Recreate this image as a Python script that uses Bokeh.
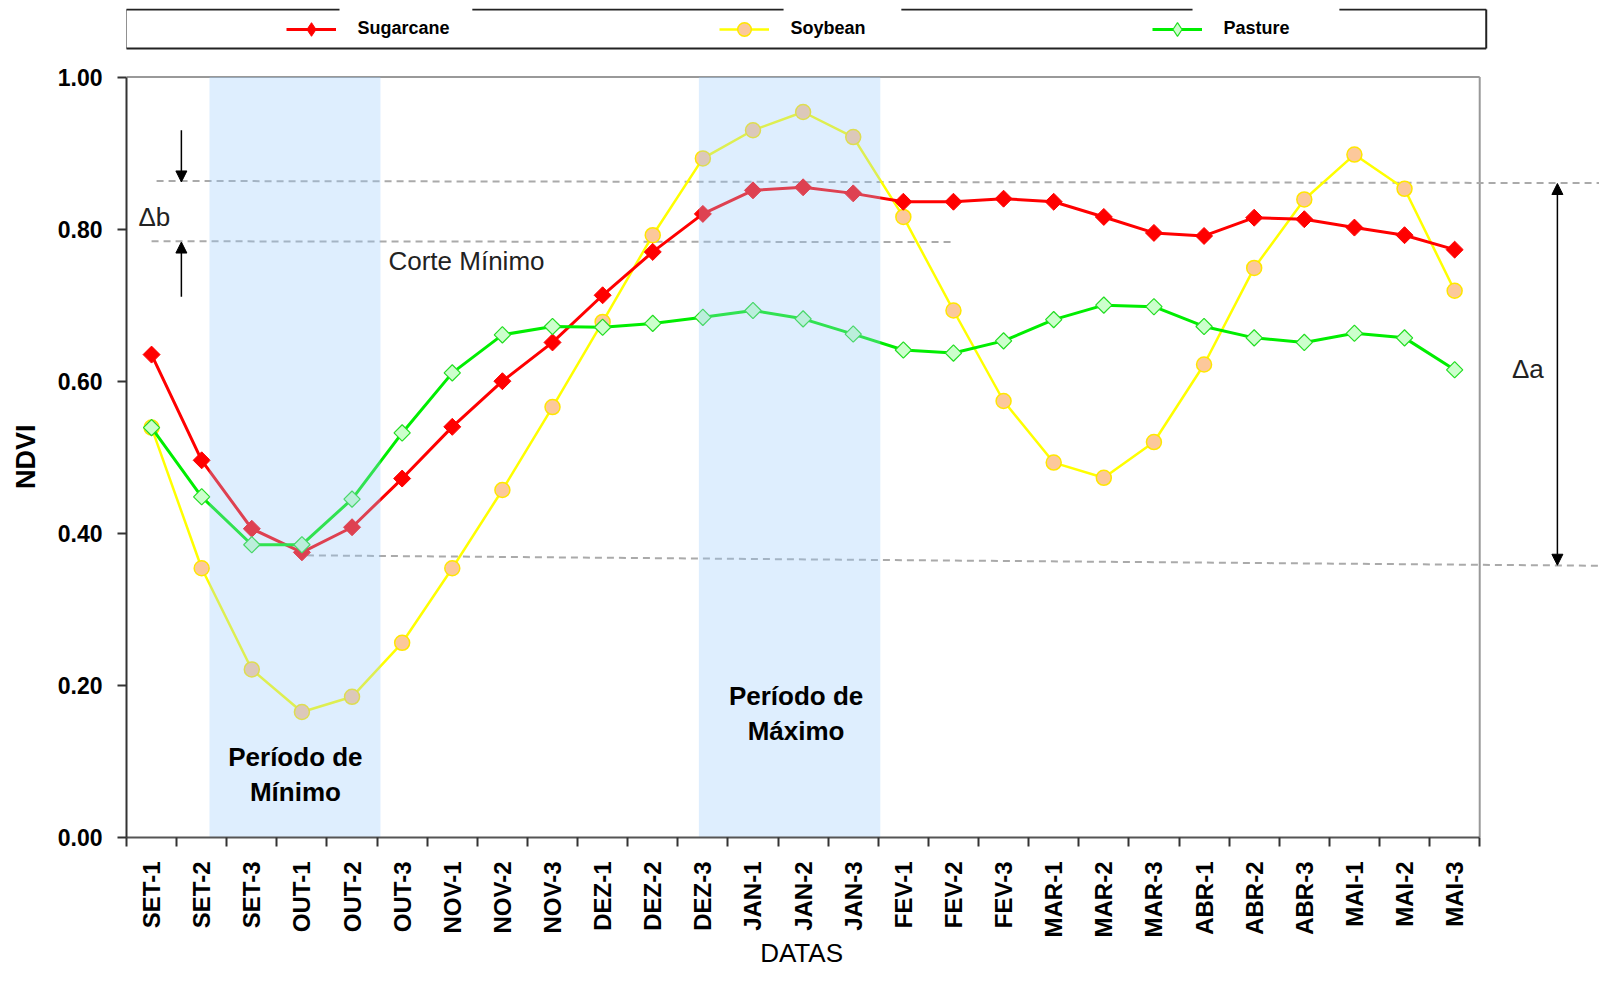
import numpy as np
from bokeh.plotting import figure
from bokeh.models import (Range1d, LinearAxis, FixedTicker, NumeralTickFormatter,
                          Legend, LegendItem, Arrow, NormalHead)
from bokeh.core.properties import value
from bokeh.embed import file_html
from bokeh.resources import INLINE

# ---------------- data ----------------
categories = ["SET-1", "SET-2", "SET-3", "OUT-1", "OUT-2", "OUT-3",
              "NOV-1", "NOV-2", "NOV-3", "DEZ-1", "DEZ-2", "DEZ-3",
              "JAN-1", "JAN-2", "JAN-3", "FEV-1", "FEV-2", "FEV-3",
              "MAR-1", "MAR-2", "MAR-3", "ABR-1", "ABR-2", "ABR-3",
              "MAI-1", "MAI-2", "MAI-3"]
sugarcane = [0.635, 0.496, 0.406, 0.375, 0.408, 0.472, 0.540, 0.600, 0.651,
             0.713, 0.770, 0.820, 0.851, 0.855, 0.847, 0.836, 0.836, 0.840,
             0.836, 0.816, 0.795, 0.791, 0.815, 0.813, 0.802, 0.792, 0.773]
soybean = [0.539, 0.354, 0.221, 0.165, 0.185, 0.256, 0.354, 0.457, 0.566,
           0.678, 0.792, 0.893, 0.930, 0.954, 0.921, 0.816, 0.693, 0.574,
           0.493, 0.473, 0.520, 0.622, 0.749, 0.839, 0.898, 0.853, 0.719]
pasture = [0.539, 0.448, 0.385, 0.385, 0.445, 0.532, 0.611, 0.661, 0.672,
           0.671, 0.676, 0.684, 0.693, 0.682, 0.662, 0.641, 0.637, 0.653,
           0.681, 0.700, 0.698, 0.672, 0.657, 0.651, 0.663, 0.657, 0.615]
y_ticks = [0.0, 0.2, 0.4, 0.6, 0.8, 1.0]

# shaded periods (in category units)
band_left = [1.156, 10.92]
band_right = [4.567, 14.54]
# reference levels
upper_level = [0.8633, 0.8605]
corte_level = [0.784, 0.783]
lower_level = [0.371, 0.357]

x = list(range(len(categories)))
FONT = "Liberation Sans"
NBSP = "\u00a0"

p = figure(width=1599, height=981, output_backend="svg", toolbar_location=None,
           x_range=Range1d(-0.5, 28.89), y_range=Range1d(0, 1.0901),
           x_axis_type=None, y_axis_type=None,
           min_border_left=126, min_border_right=0, min_border_top=8,
           min_border_bottom=144)
p.outline_line_color = None
p.background_fill_color = "white"

# ---------------- axes ----------------
xaxis = LinearAxis(
    ticker=FixedTicker(ticks=x, minor_ticks=[i - 0.5 for i in range(len(categories) + 1)]),
    bounds=(-0.5, len(categories) - 0.5),
    major_label_overrides={i: c for i, c in enumerate(categories)},
    major_label_orientation=np.pi / 2,
    major_tick_out=0, major_tick_in=0,
    minor_tick_out=9, minor_tick_in=0,
    minor_tick_line_color="#333333", minor_tick_line_width=2,
    major_label_standoff=15,
    major_label_text_font=FONT, major_label_text_font_style="bold",
    major_label_text_font_size="24px", major_label_text_color="black",
    axis_line_color="#555555", axis_line_width=2,
    # trailing no-break spaces centre the title under the axis (not the wider frame)
    axis_label="DATAS" + NBSP * 17, axis_label_standoff=-2,
    axis_label_text_font=FONT, axis_label_text_font_style="normal",
    axis_label_text_font_size="26px", axis_label_text_color="black",
)
p.add_layout(xaxis, "below")

yaxis = LinearAxis(
    ticker=FixedTicker(ticks=y_ticks),
    formatter=NumeralTickFormatter(format="0.00"),
    bounds=(0, 1),
    major_tick_out=9, major_tick_in=0,
    major_tick_line_color="#333333", major_tick_line_width=2,
    minor_tick_line_color=None,
    major_label_standoff=15,
    major_label_text_font=FONT, major_label_text_font_style="bold",
    major_label_text_font_size="23px", major_label_text_color="black",
    axis_line_color="#333333", axis_line_width=2,
    axis_label="NDVI" + NBSP * 9, axis_label_standoff=14,
    axis_label_text_font=FONT, axis_label_text_font_style="bold",
    axis_label_text_font_size="27px", axis_label_text_color="black",
)
p.add_layout(yaxis, "left")

# frame top and right border
p.line([-0.5, 26.5], [1, 1], line_color="#999999", line_width=2)
p.line([26.5, 26.5], [0, 1], line_color="#999999", line_width=2)

# ---------------- reference dashed lines ----------------
p.line([0.10, 29.5], upper_level, line_color="#AAAAAA", line_width=2, line_dash="7 5")
p.line([0.0, 15.95], corte_level, line_color="#AAAAAA", line_width=2, line_dash="7 5")
p.line([3.1, 29.5], lower_level, line_color="#AAAAAA", line_width=2, line_dash="7 5")

# ---------------- series ----------------
soy_line = p.line(x, soybean, line_color="#FFFF00", line_width=2.5)
soy_pts = p.scatter(x, soybean, marker="circle", size=15, fill_color="#FCC89B",
                    line_color="#FFE600", line_width=1.5)
sug_line = p.line(x, sugarcane, line_color="#FF0000", line_width=3)
# small diamond under the rotated squares: used as the legend key
sug_key = p.scatter(x, sugarcane, marker="diamond", size=7,
                    fill_color="#FF0000", line_color="#FF0000")
p.scatter(x, sugarcane, marker="square", angle=np.pi / 4, size=12,
          fill_color="#FF0000", line_color="#FF0000")
pas_line = p.line(x, pasture, line_color="#00EE00", line_width=3)
pas_key = p.scatter(x, pasture, marker="diamond", size=6,
                    fill_color="#CCFFCC", line_color="#22DD22", line_width=1.2)
p.scatter(x, pasture, marker="square", angle=np.pi / 4, size=11.5,
          fill_color="#CCFFCC", line_color="#22DD22", line_width=1.2)

# shaded periods drawn over the series (semi transparent)
p.quad(left=band_left, right=band_right, bottom=0, top=1,
       fill_color=(151, 201, 251), fill_alpha=0.32, line_alpha=0)

# ---------------- annotations ----------------
p.text(x=[2.87, 2.87, 12.86, 12.86], y=[0.1052, 0.0592, 0.1861, 0.1394],
       text=["Período de", "Mínimo", "Período de", "Máximo"],
       text_font=value(FONT), text_font_style="bold", text_font_size="26px",
       text_align="center", text_baseline="middle", text_color="black")
p.text(x=[4.727], y=[0.7587], text=["Corte Mínimo"],
       text_font=value(FONT), text_font_size="26px", text_align="left",
       text_baseline="middle", text_color="#222222")
p.text(x=[-0.261], y=[0.8165], text=["Δb"],
       text_font=value(FONT), text_font_size="26px", text_align="left",
       text_baseline="middle", text_color="#222222")
p.text(x=[27.46], y=[0.616], text=["Δa"],
       text_font=value(FONT), text_font_size="26px", text_align="center",
       text_baseline="middle", text_color="#222222")

p.add_layout(Arrow(end=NormalHead(size=11, fill_color="black", line_color="black"),
                   x_start=0.595, y_start=0.930, x_end=0.595, y_end=0.862,
                   line_color="black", line_width=1.5))
p.add_layout(Arrow(end=NormalHead(size=11, fill_color="black", line_color="black"),
                   x_start=0.595, y_start=0.711, x_end=0.595, y_end=0.783,
                   line_color="black", line_width=1.5))
p.add_layout(Arrow(start=NormalHead(size=11, fill_color="black", line_color="black"),
                   end=NormalHead(size=11, fill_color="black", line_color="black"),
                   x_start=28.05, y_start=0.358, x_end=28.05, y_end=0.860,
                   line_color="black", line_width=1.5))

# ---------------- legend box ----------------
box_l, box_r, box_t, box_b = -0.51, 26.63, 1.0888, 1.0375
top_segments = [(-0.51, 3.75), (6.40, 12.61), (14.96, 20.77), (23.70, 26.63)]
p.multi_line(xs=[[a, b] for a, b in top_segments], ys=[[box_t, box_t]] * len(top_segments),
             line_color="#222222", line_width=2)
p.multi_line(xs=[[box_l, box_l], [box_r, box_r], [box_l, box_r]],
             ys=[[box_b, box_t], [box_b, box_t], [box_b, box_b]],
             line_color="#222222", line_width=2)

legend = Legend(items=[
    LegendItem(label="Sugarcane", renderers=[sug_line, sug_key]),
    LegendItem(label="Soybean", renderers=[soy_line, soy_pts]),
    LegendItem(label="Pasture", renderers=[pas_line, pas_key]),
], orientation="horizontal", location=(159.5, 791.5),
    glyph_width=50, glyph_height=34, label_height=20, label_width=361,
    label_standoff=22, spacing=0, padding=0, margin=0,
    label_text_font=FONT, label_text_font_style="bold",
    label_text_font_size="18px", label_text_color="black",
    label_text_baseline="middle",
    background_fill_alpha=0, border_line_color=None)
p.add_layout(legend)

open("out.html", "w").write(file_html(p, INLINE))
